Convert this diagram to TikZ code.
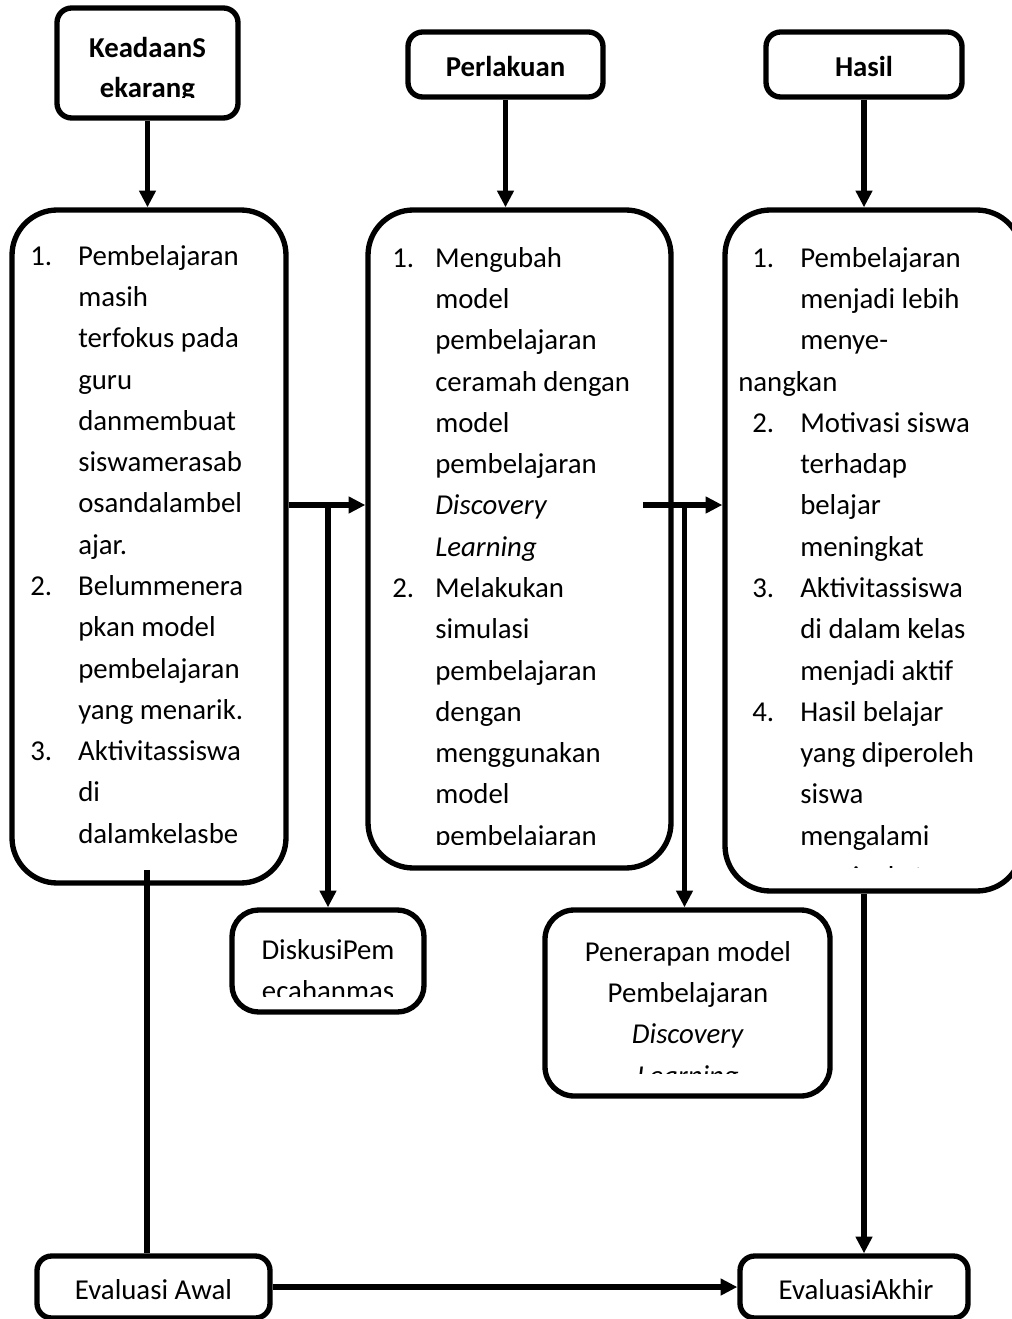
\documentclass[tikz,border=0pt]{standalone}
\usepackage{fontspec}
\setmainfont{Carlito}
\usetikzlibrary{arrows.meta,calc}
\newcommand{\fstrut}{\rule{0pt}{17.28pt}}
\newcommand{\numl}[2]{\makebox[#1][l]{#2}}
\begin{document}
\begin{tikzpicture}[x=0.75pt,y=-0.75pt,
  box/.style={draw,line width=4pt,rounded corners=#1,inner sep=0pt,fill=white},
  box/.default=11pt,
  sz/.style 2 args={minimum width=#1*0.75pt,minimum height=#2*0.75pt},
  txt/.style={inner sep=0pt,align=left,anchor=north west,font=\fontsize{21.6pt}{30.96pt}\selectfont},
  ctxt/.style={inner sep=0pt,align=center,anchor=north,font=\fontsize{21.6pt}{30.6pt}\selectfont},
  conn/.style={line width=4pt},
  arr/.style={conn,-{Triangle[length=12.5pt,width=12pt]}}]
\useasboundingbox (0,0) rectangle (1012,1319);
\fill[white] (0,0) rectangle (1012,1319);

% header boxes
\node[box=11pt,sz={181}{110}] (A) at (147.5,63) {};
\node[box=11pt,sz={195}{65}] (B) at (505.5,64.5) {};
\node[box=11pt,sz={196}{65}] (C) at (864,64.5) {};

% main boxes
\node[box=34pt,sz={274}{673}] (L) at (149,546.5) {};
\node[box=34pt,sz={303}{658}] (M) at (519.5,539) {};
\node[box=34pt,sz={297}{681}] (R) at (873.5,550.5) {};

% lower boxes
\node[box=20pt,sz={192}{102}] (D) at (328,961) {};
\node[box=22pt,sz={285}{186}] (P) at (687.5,1003) {};
\node[box=11pt,sz={233}{62}] (EA) at (153.5,1287) {};
\node[box=11pt,sz={228}{62}] (EZ) at (854,1287) {};

% header texts
\begin{scope}
\clip (57,8) rectangle (238,98);
\node[ctxt,font=\fontsize{21.6pt}{30pt}\selectfont\bfseries] (tA) at (147.5,57-23.04) {\fstrut KeadaanS\\ekarang};
\end{scope}
\node[ctxt,font=\fontsize{21.6pt}{30pt}\selectfont\bfseries] (tB) at (505.5,76-23.04) {\fstrut Perlakuan};
\node[ctxt,font=\fontsize{21.6pt}{30pt}\selectfont\bfseries] (tC) at (864,76-23.04) {\fstrut Hasil};

% left box text
\begin{scope}
\clip (12,210) rectangle (286,862);
\node[txt] (tL) at (30,265-23.04) {\fstrut\numl{36pt}{1.}Pembelajaran\\
\hspace*{36pt}masih\\
\hspace*{36pt}terfokus pada\\
\hspace*{36pt}guru\\
\hspace*{36pt}danmembuat\\
\hspace*{36pt}siswamerasab\\
\hspace*{36pt}osandalambel\\
\hspace*{36pt}ajar.\\
\numl{36pt}{2.}Belummenera\\
\hspace*{36pt}pkan model\\
\hspace*{36pt}pembelajaran\\
\hspace*{36pt}yang menarik.\\
\numl{36pt}{3.}Aktivitassiswa\\
\hspace*{36pt}di\\
\hspace*{36pt}dalamkelasbe};
\end{scope}

% middle box text
\begin{scope}
\clip (368,210) rectangle (671,844);
\node[txt] (tM) at (392,267-23.04) {\fstrut\numl{32.25pt}{1.}Mengubah\\
\hspace*{32.25pt}model\\
\hspace*{32.25pt}pembelajaran\\
\hspace*{32.25pt}ceramah dengan\\
\hspace*{32.25pt}model\\
\hspace*{32.25pt}pembelajaran\\
\hspace*{32.25pt}\textit{Discovery}\\
\hspace*{32.25pt}\textit{Learning}\\
\numl{32.25pt}{2.}Melakukan\\
\hspace*{32.25pt}simulasi\\
\hspace*{32.25pt}pembelajaran\\
\hspace*{32.25pt}dengan\\
\hspace*{32.25pt}menggunakan\\
\hspace*{32.25pt}model\\
\hspace*{32.25pt}pembelajaran};
\end{scope}

% right box text
\begin{scope}
\clip (725,210) rectangle (1012,867);
\node[txt] (tR) at (738,267-23.04) {\fstrut\hspace*{10.5pt}\numl{36pt}{1.}Pembelajaran\\
\hspace*{46.5pt}menjadi lebih\\
\hspace*{46.5pt}menye-\\
nangkan\\
\hspace*{10.5pt}\numl{36pt}{2.}Motivasi siswa\\
\hspace*{46.5pt}terhadap\\
\hspace*{46.5pt}belajar\\
\hspace*{46.5pt}meningkat\\
\hspace*{10.5pt}\numl{36pt}{3.}Aktivitassiswa\\
\hspace*{46.5pt}di dalam kelas\\
\hspace*{46.5pt}menjadi aktif\\
\hspace*{10.5pt}\numl{36pt}{4.}Hasil belajar\\
\hspace*{46.5pt}yang diperoleh\\
\hspace*{46.5pt}siswa\\
\hspace*{46.5pt}mengalami\\
\hspace*{46.5pt}meningkat};
\end{scope}

% lower texts
\begin{scope}
\clip (232,910) rectangle (424,996);
\node[ctxt] (tD) at (328,959-23.04) {\fstrut DiskusiPem\\ecahanmas};
\end{scope}
\begin{scope}
\clip (545,910) rectangle (830,1073);
\node[ctxt,font=\fontsize{21.6pt}{31pt}\selectfont] (tP) at (688,961-23.04) {\fstrut Penerapan model\\Pembelajaran\\\textit{Discovery}\\\textit{Learning}};
\end{scope}
\node[ctxt] (tEA) at (153.5,1299-23.04) {\fstrut Evaluasi Awal};
\node[ctxt] (tEZ) at (856,1299-23.04) {\fstrut EvaluasiAkhir};

% connectors
\coordinate (hL) at (0,505);
\coordinate (mS) at (643,505);
\coordinate (lS) at (147,870);
\draw[arr] (A.south) -- (A.south |- L.north);
\draw[arr] (B.south) -- (B.south |- M.north);
\draw[arr] (C.south) -- (C.south |- R.north);
\draw[arr] (L.east |- hL) -- (M.west |- hL);
\draw[arr] (D.north |- hL) -- (D.north);
\draw[arr] (mS) -- (R.west |- mS);
\draw[arr] ($(P.north |- hL)+(-3,0)$) -- ($(P.north)+(-3,0)$);
\draw[conn] (lS) -- (lS |- EA.north);
\draw[arr] (C.south |- R.south) -- (C.south |- EZ.north);
\draw[arr] (EA.east) -- (EZ.west);
\end{tikzpicture}
\end{document}
